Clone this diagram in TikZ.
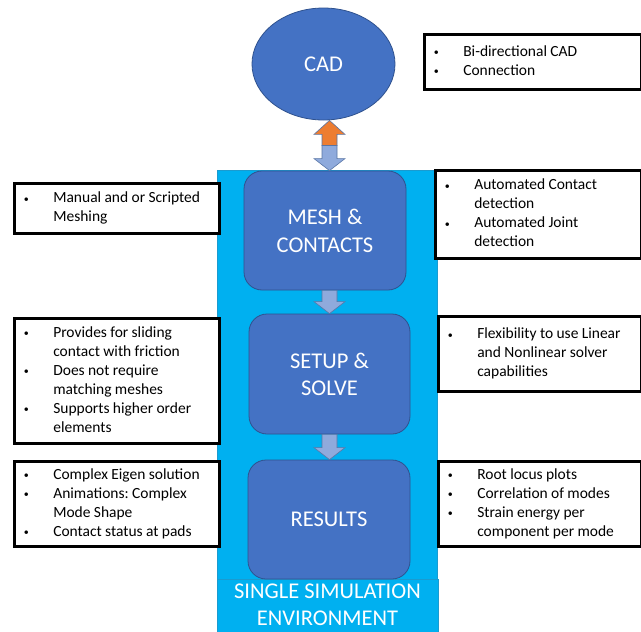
\documentclass[tikz,border=0pt]{standalone}
\usepackage{fontspec}
\setmainfont{Carlito}
\usetikzlibrary{shapes.geometric,calc}
\definecolor{boxblue}{HTML}{4472C4}
\definecolor{boxborder}{HTML}{2F528F}
\definecolor{envblue}{HTML}{00B0F0}
\definecolor{envborder}{HTML}{1A9BD0}
\definecolor{arrowblue}{HTML}{8FAADC}
\definecolor{arroworange}{HTML}{ED7D31}
\newcommand{\biglabel}{\fontsize{22.5}{27}\selectfont}
\newcommand{\smalltxt}{\fontsize{15.5}{19}\selectfont}
\newcommand{\bul}{\hspace*{1.5pt}{\fontsize{10}{10}\selectfont\raisebox{0.6pt}{\textbullet}}}
\newenvironment{blist}{\smalltxt\frenchspacing\begin{tabular}{@{}p{31pt}@{}l@{}}}{\end{tabular}}
\tikzset{
  envcol/.style={rectangle, fill=envblue, draw=envborder, line width=0.5pt, inner sep=0pt},
  envlabel/.style={rectangle, fill=envblue, draw=envborder, line width=0.5pt, inner sep=0pt, text=white, align=center, font=\biglabel},
  stagebox/.style={rectangle, rounded corners=18pt, fill=boxblue, draw=boxborder, line width=0.8pt, text=white, align=center, font=\biglabel, inner sep=0pt},
  cadshape/.style={ellipse, fill=boxblue, draw=boxborder, line width=0.8pt, text=white, font=\biglabel, inner sep=0pt},
  callout/.style={rectangle, draw=black, line width=2.6pt, fill=white, anchor=north west, inner xsep=8pt, inner ysep=0pt, align=left},
  blockarrow/.style={fill=arrowblue, draw=boxborder!80, line width=0.6pt},
  orangearrow/.style={fill=arroworange, draw=boxborder!80, line width=0.6pt},
}
\newcommand{\downblock}[2]{%
  \path[blockarrow] let \p1=(#1), \p2=(#2) in
    (\x2-7.5pt,\y1) -- (\x2+7.5pt,\y1) -- (\x2+7.5pt,\y2+12pt) -- (\x2+15.5pt,\y2+12pt)
    -- (\x2,\y2) -- (\x2-15.5pt,\y2+12pt) -- (\x2-7.5pt,\y2+12pt) -- cycle;}
\begin{document}
\begin{tikzpicture}[x=1pt,y=-1pt]
\useasboundingbox (0,0) rectangle (641,632);
\fill[white] (0,0) rectangle (641,632);

% environment column
\node[envcol, minimum width=220pt, minimum height=470pt] (env) at (327,405) {};
\node[envlabel, minimum width=221pt, minimum height=56pt] (envlab) at (327.5,607) {};
\node[text=white, align=center, font=\biglabel, inner sep=0pt] (envtext) at (327.5,605) {SINGLE SIMULATION\\ENVIRONMENT};

% stages
\node[cadshape, minimum width=143pt, minimum height=112pt] (cad) at (323.5,64) {CAD};
\node[stagebox, minimum width=162pt, minimum height=119pt] (mesh) at (325,230.5) {MESH \&\\[1pt]CONTACTS};
\node[stagebox, minimum width=161pt, minimum height=120pt] (setup) at (329.5,374) {SETUP \&\\SOLVE};
\node[stagebox, minimum width=162pt, minimum height=119pt] (results) at (329,519.5) {RESULTS};

\coordinate (ax) at (329.5,0);

% double arrow CAD <-> MESH
\path[orangearrow] let \p1=(cad.south -| ax), \p2=(mesh.north -| ax), \n1={(\y1+\y2)/2} in
  (\x1-7.5pt,\n1) -- (\x1-7.5pt,\y1-14pt) -- (\x1-15.5pt,\y1-14pt) -- (\x1,\y1)
  -- (\x1+15.5pt,\y1-14pt) -- (\x1+7.5pt,\y1-14pt) -- (\x1+7.5pt,\n1) -- cycle;
\path[blockarrow] let \p1=(cad.south -| ax), \p2=(mesh.north -| ax), \n1={(\y1+\y2)/2} in
  (\x2-7.5pt,\n1) -- (\x2+7.5pt,\n1) -- (\x2+7.5pt,\y2+12pt) -- (\x2+15.5pt,\y2+12pt)
  -- (\x2,\y2) -- (\x2-15.5pt,\y2+12pt) -- (\x2-7.5pt,\y2+12pt) -- cycle;

% stage arrows
\downblock{mesh.south -| ax}{setup.north -| ax}
\downblock{setup.south -| ax}{results.north -| ax}

% callouts
\node[callout, text width=201pt, minimum height=55pt] (c1) at (423,33)
  {\begin{blist}\bul & Bi-directional CAD\\ \bul & Connection\end{blist}};
\node[callout, text width=189pt, minimum height=50pt] (c2) at (13,182)
  {\begin{blist}\bul & Manual and or Scripted\\ & Meshing\end{blist}};
\node[callout, text width=190pt, minimum height=88pt] (c3) at (434,169)
  {\begin{blist}\bul & Automated Contact\\ & detection\\ \bul & Automated Joint\\ & detection\end{blist}};
\node[callout, text width=189pt, minimum height=125pt] (c4) at (13,317)
  {\begin{blist}\bul & Provides for sliding\\ & contact with friction\\ \bul & Does not require\\ & matching meshes\\ \bul & Supports higher order\\ & elements\end{blist}};
\node[callout, text width=187pt, minimum height=75pt] (c5) at (437,315)
  {\begin{blist}\bul & Flexibility to use Linear\\ & and Nonlinear solver\\ & capabilities\end{blist}};
\node[callout, text width=189pt, minimum height=85pt] (c6) at (13,460)
  {\begin{blist}\bul & Complex Eigen solution\\ \bul & Animations: Complex\\ & Mode Shape\\ \bul & Contact status at pads\end{blist}};
\node[callout, text width=187pt, minimum height=85pt] (c7) at (437,460)
  {\begin{blist}\bul & Root locus plots\\ \bul & Correlation of modes\\ \bul & Strain energy per\\ & component per mode\end{blist}};
\end{tikzpicture}
\end{document}
